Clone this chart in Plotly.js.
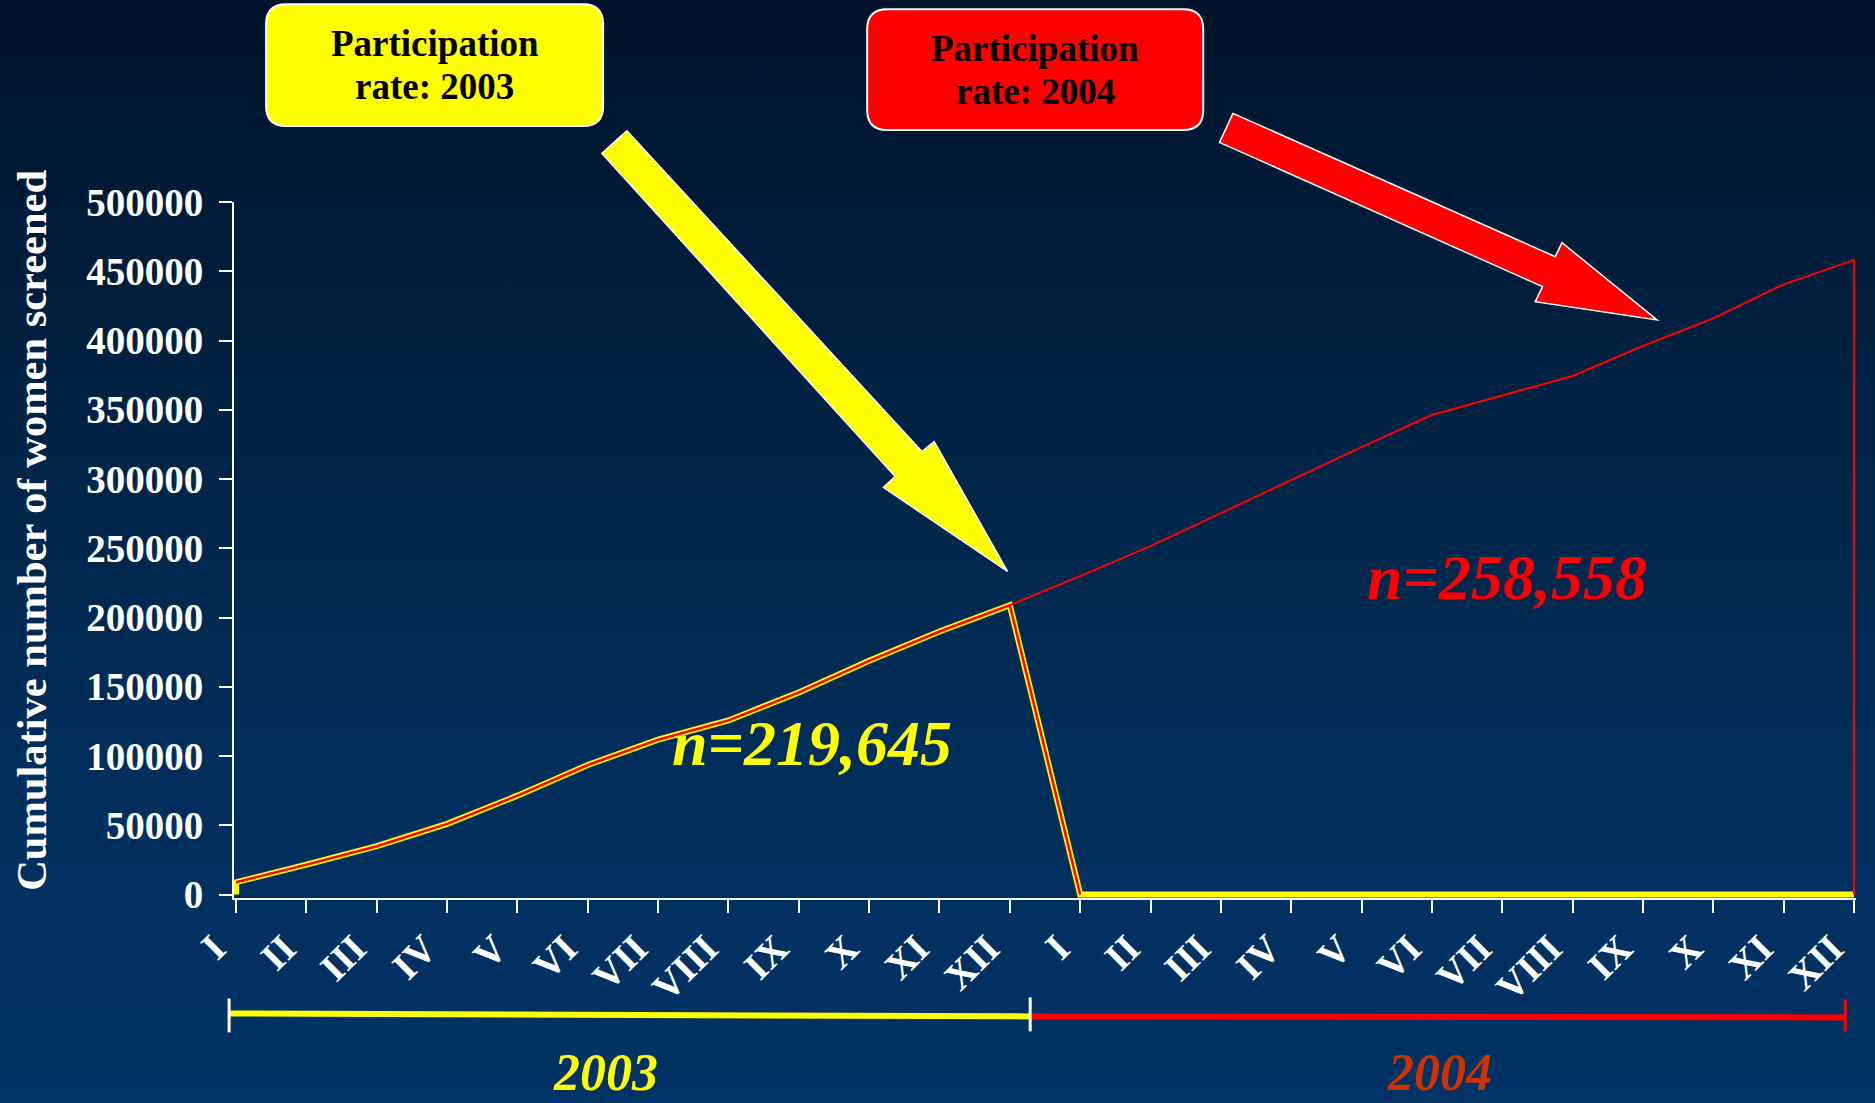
<!DOCTYPE html>
<html><head><meta charset="utf-8">
<script src="https://cdn.plot.ly/plotly-3.0.1.min.js"></script>
<style>
html,body{margin:0;padding:0;width:1875px;height:1103px;overflow:hidden;
background:linear-gradient(to bottom,#00132a 0%,#001b38 18%,#002649 45%,#002f5c 70%,#003366 100%);}
#chart{width:1875px;height:1103px;}
</style></head><body><div id="chart"></div>
<script>
// ---- data ----
const months = ['I','II','III','IV','V','VI','VII','VIII','IX','X','XI','XII'];
const tickLabels = months.concat(months);
const cum2003 = [8900, 21600, 34900, 51000, 71400, 93500, 111800, 125700, 145900, 168750, 189900, 208900];
const cum2004 = [229900, 251500, 275400, 299200, 323000, 346200, 360200, 374400, 396000, 416000, 440500, 458000];
const yTickVals = [0, 50000, 100000, 150000, 200000, 250000, 300000, 350000, 400000, 450000, 500000];
const label2003 = 'n=219,645';
const label2004 = 'n=258,558';
const boxText2003 = ['Participation', 'rate: 2003'];
const boxText2004 = ['Participation', 'rate: 2004'];
const yearLabels = ['2003', '2004'];
const yTitle = 'Cumulative number of women screened';

// ---- geometry helpers (pixel -> paper) ----
const W = 1875, H = 1103;
const M = {l: 233.9, r: 19.3, t: 202, b: 204.5};
const PW = W - M.l - M.r, PH = H - M.t - M.b;
const px = x => (x - M.l) / PW;
const py = y => (H - M.b - y) / PH;
function poly(pts){ return 'M' + pts.map(p => px(p[0]).toFixed(5) + ',' + py(p[1]).toFixed(5)).join(' L') + ' Z'; }
function rrect(x0, y0, x1, y1, r){
  const P = (x,y) => px(x).toFixed(5) + ',' + py(y).toFixed(5);
  return 'M' + P(x0+r,y0) + ' L' + P(x1-r,y0) + ' Q' + P(x1,y0) + ' ' + P(x1,y0+r) +
    ' L' + P(x1,y1-r) + ' Q' + P(x1,y1) + ' ' + P(x1-r,y1) +
    ' L' + P(x0+r,y1) + ' Q' + P(x0,y1) + ' ' + P(x0,y1-r) +
    ' L' + P(x0,y0+r) + ' Q' + P(x0,y0) + ' ' + P(x0+r,y0) + ' Z';
}

const idx = tickLabels.map((_, i) => i);
const series2003 = cum2003.concat(months.map(() => 0));

const font = 'Liberation Serif, Times New Roman, serif';

const traces = [
  { // 2003 outline (yellow)
    x: [0].concat(idx), y: [0].concat(series2003),
    mode: 'lines', line: {color: '#ffff00', width: 6}, hoverinfo: 'skip'
  },
  { // 2003 inner red line
    x: idx.slice(0, 13), y: cum2003.concat([0]),
    mode: 'lines', line: {color: '#ff0000', width: 2.5}, hoverinfo: 'skip'
  },
  { // 2004 cumulative (red)
    x: [11].concat(idx.slice(12), [23]), y: [cum2003[11]].concat(cum2004, [0]),
    mode: 'lines', line: {color: '#ff0000', width: 2}, hoverinfo: 'skip'
  }
];

const shapes = [
  // callout boxes
  {type: 'path', xref: 'paper', yref: 'paper', path: rrect(266, 4, 603, 126, 20),
   fillcolor: '#ffff00', line: {color: '#ffffff', width: 2}},
  {type: 'path', xref: 'paper', yref: 'paper', path: rrect(867, 9, 1203, 130, 20),
   fillcolor: '#ff0000', line: {color: '#ffffff', width: 2}},
  // arrows
  {type: 'path', xref: 'paper', yref: 'paper',
   path: poly([[626.7,130.7],[921.7,451.7],[934,441.7],[1007.3,571.7],[883.3,487.7],[895,476.7],[601.7,153.3]]),
   fillcolor: '#ffff00', line: {color: '#ffffff', width: 1.5}},
  {type: 'path', xref: 'paper', yref: 'paper',
   path: poly([[1232.7,113.3],[1555,256.7],[1561.7,242.7],[1656.7,320],[1535,301.7],[1542.3,286.7],[1219.3,142.3]]),
   fillcolor: '#ff0000', line: {color: '#ffffff', width: 1.5}},
  // bottom year bars
  {type: 'line', xref: 'paper', yref: 'paper', x0: px(229), y0: py(1014), x1: px(1030), y1: py(1017),
   line: {color: '#ffff00', width: 6}},
  {type: 'line', xref: 'paper', yref: 'paper', x0: px(1030), y0: py(1017), x1: px(1845), y1: py(1018),
   line: {color: '#ff0000', width: 6}},
  {type: 'line', xref: 'paper', yref: 'paper', x0: px(229), y0: py(999), x1: px(229), y1: py(1033),
   line: {color: '#ffffff', width: 3}},
  {type: 'line', xref: 'paper', yref: 'paper', x0: px(1030), y0: py(998), x1: px(1030), y1: py(1032),
   line: {color: '#ffffff', width: 3}},
  {type: 'line', xref: 'paper', yref: 'paper', x0: px(1845), y0: py(1000), x1: px(1845), y1: py(1032),
   line: {color: '#ff0000', width: 3}}
];

function ann(text, x, y, size, color, opts){
  return Object.assign({text: text, xref: 'paper', yref: 'paper', x: px(x), y: py(y),
    xanchor: 'center', yanchor: 'middle', showarrow: false,
    font: {family: font, size: size, color: color, weight: 'bold'}}, opts || {});
}

const annotations = [
  ann(yTitle, 32, 531, 42.5, '#ffffff', {textangle: -90}),
  ann(boxText2003[0], 434.5, 43.5, 37, '#000000'),
  ann(boxText2003[1], 434.5, 86.5, 37, '#000000'),
  ann(boxText2004[0], 1035, 48.5, 37, '#000000'),
  ann(boxText2004[1], 1035, 91.5, 37, '#000000'),
  ann(label2003, 812, 744, 64, '#ffff00', {font: {family: font, size: 64, color: '#ffff00', weight: 'bold', style: 'italic'}}),
  ann(label2004, 1507, 578, 64, '#ff0000', {font: {family: font, size: 64, color: '#ff0000', weight: 'bold', style: 'italic'}}),
  ann(yearLabels[0], 605, 1073, 52, '#ffff00', {font: {family: font, size: 52, color: '#ffff00', weight: 'bold', style: 'italic'}}),
  ann(yearLabels[1], 1439, 1073, 52, '#cc3300', {font: {family: font, size: 52, color: '#cc3300', weight: 'bold', style: 'italic'}})
];

const layout = {
  width: W, height: H, autosize: false,
  margin: M,
  paper_bgcolor: 'rgba(0,0,0,0)', plot_bgcolor: 'rgba(0,0,0,0)',
  showlegend: false,
  xaxis: {
    range: [-0.03, 23.03], tickvals: idx, ticktext: tickLabels, tickangle: -45,
    ticks: 'outside', ticklen: 13, tickwidth: 2, tickcolor: '#ffffff',
    ticklabelshift: -22, ticklabelstandoff: -3,
    showline: true, linecolor: '#ffffff', linewidth: 2, showgrid: false, zeroline: false,
    tickfont: {family: font, size: 39, color: '#ffffff', weight: 'bold'}, automargin: false
  },
  yaxis: {
    range: [-2500, 500000], tickvals: yTickVals, ticktext: yTickVals.map(String),
    ticks: 'outside', ticklen: 13, tickwidth: 2, tickcolor: '#ffffff',
    ticklabelstandoff: 8,
    showline: true, linecolor: '#ffffff', linewidth: 2, showgrid: false, zeroline: false,
    tickfont: {family: font, size: 39, color: '#ffffff', weight: 'bold'}, automargin: false
  },
  shapes: shapes,
  annotations: annotations
};

Plotly.newPlot('chart', traces, layout, {staticPlot: true, displayModeBar: false});
</script>
</body></html>
